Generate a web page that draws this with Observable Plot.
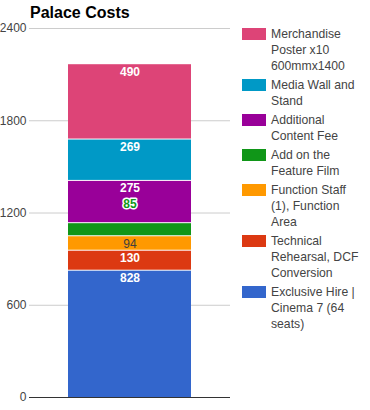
<!DOCTYPE html>
<html>
<head>
<meta charset="utf-8">
<script src="https://cdn.jsdelivr.net/npm/d3@7"></script>
<script src="https://cdn.jsdelivr.net/npm/@observablehq/plot@0.6"></script>
<style>
  body { margin: 0; background: white; font-family: Arial, "Liberation Sans", sans-serif; }
  #wrap { position: relative; width: 370px; height: 410px; }
  #title { position: absolute; left: 30px; top: 5px; font-size: 16px; font-weight: bold; line-height: 16px; color: #000; }
  #legend { position: absolute; left: 242px; top: 26px; width: 125px; }
  .item { display: flex; align-items: flex-start; margin-bottom: 3px; }
  .sw { width: 24px; height: 12px; margin-top: 2px; flex: none; }
  .lab { margin-left: 5px; width: 92px; font-size: 12.2px; line-height: 16px; color: #444; }
</style>
</head>
<body>
<div id="wrap">
  <div id="chart"></div>
  <div id="title"></div>
  <div id="legend"></div>
</div>
<script>
const title = "Palace Costs";
const categories = [
  "Exclusive Hire | Cinema 7 (64 seats)",
  "Technical Rehearsal, DCF Conversion",
  "Function Staff (1), Function Area",
  "Add on the Feature Film",
  "Additional Content Fee",
  "Media Wall and Stand",
  "Merchandise Poster x10 600mmx1400"
];
const values = [828, 130, 94, 85, 275, 269, 490];
const colors = ["#3366cc", "#dc3912", "#ff9900", "#109618", "#990099", "#0099c6", "#dd4477"];
const yTicks = [0, 600, 1200, 1800, 2400];

const rows = categories.map((c, i) => ({cat: c, value: values[i]}));
let acc = 0;
rows.forEach(r => { r.bottom = acc; acc += r.value; r.top = acc; });

// segments too thin for an inside label get it above, outlined
const thin = r => r.value < 90;
const lightBg = r => colors[categories.indexOf(r.cat)] === "#ff9900";

const chart = Plot.plot({
  width: 370,
  height: 410,
  marginLeft: 29,
  marginRight: 140,
  marginTop: 28,
  marginBottom: 13,
  style: {fontFamily: "Arial, 'Liberation Sans', sans-serif", fontSize: "12px", color: "#444", background: "white"},
  x: {domain: [title], axis: null, paddingInner: 0, paddingOuter: 0.317},
  y: {domain: [0, 2400], ticks: yTicks, tickSize: 0, tickPadding: 3, label: null, tickFormat: d => String(d)},
  color: {domain: categories, range: colors},
  marks: [
    Plot.ruleY(yTicks.filter(d => d > 0), {stroke: "#ccc"}),
    Plot.barY(rows, {x: () => title, y1: "bottom", y2: "top", fill: "cat", insetTop: 1}),
    Plot.ruleY([0], {stroke: "#333"}),
    Plot.text(rows.filter(r => !thin(r) && !lightBg(r)), {x: () => title, y: "top", text: d => String(d.value), dy: 8, fill: "white", fontWeight: "bold", fontSize: 12}),
    Plot.text(rows.filter(r => !thin(r) && lightBg(r)), {x: () => title, y: "top", text: d => String(d.value), dy: 8, fill: "#404040", fontSize: 12}),
    Plot.text(rows.filter(r => thin(r)), {x: () => title, y: "top", text: d => String(d.value), dy: -19, fill: "#109618", stroke: "white", strokeWidth: 3, paintOrder: "stroke", fontWeight: "bold", fontSize: 12})
  ]
});
document.getElementById("chart").appendChild(chart);
document.getElementById("title").textContent = title;

const legend = document.getElementById("legend");
categories.map((c, i) => [c, colors[i]]).reverse().forEach(([c, col]) => {
  const item = document.createElement("div");
  item.className = "item";
  const sw = document.createElement("div");
  sw.className = "sw";
  sw.style.background = col;
  const lab = document.createElement("div");
  lab.className = "lab";
  lab.textContent = c;
  item.appendChild(sw);
  item.appendChild(lab);
  legend.appendChild(item);
});
</script>
</body>
</html>
